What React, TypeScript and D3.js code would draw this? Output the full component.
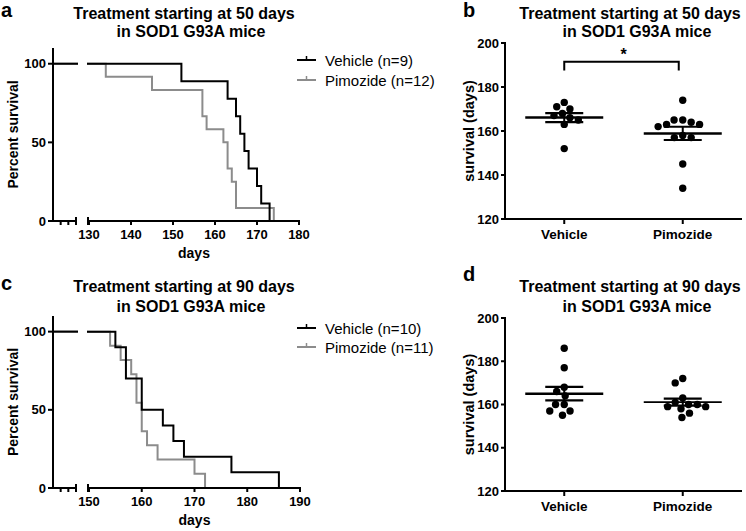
import React from "react";
import * as d3 from "d3";

// ---------- data ----------
const categories = ["Vehicle", "Pimozide"];
// survival (days) of each mouse — treatment starting at 50 days
const vehicle50Days = [152, 163, 165, 166, 167, 168, 170, 171, 173];
const pimozide50Days = [134, 145, 157, 157, 158, 162, 163, 163, 164, 165, 165, 174];
// survival (days) of each mouse — treatment starting at 90 days
const vehicle90Days = [155, 157, 157, 160, 160, 164, 166, 168, 177, 186];
const pimozide90Days = [154, 156, 158, 159, 159, 160, 160, 161, 163, 170, 172];

const xTicks50 = [130, 140, 150, 160, 170, 180];
const xTicks90 = [150, 160, 170, 180, 190];
const survivalTicks = [0, 50, 100];
const daysTicks = [120, 140, 160, 180, 200];

const title50 = ["Treatment starting at 50 days", "in SOD1 G93A mice"];
const title90 = ["Treatment starting at 90 days", "in SOD1 G93A mice"];
const legend50 = ["Vehicle (n=9)", "Pimozide (n=12)"];
const legend90 = ["Vehicle (n=10)", "Pimozide (n=11)"];
const sig50 = { text: "*", level: 191.5, tickEnd: 187.5 };

// ---------- style ----------
const FONT = "'Liberation Sans', Arial, Helvetica, sans-serif";
const GRAY = "#8c8c8c";
const BLACK = "#000";

function kmPoints(days: number[], start: number): [number, number][] {
  const n = days.length;
  const groups = d3.rollups(days, (v) => v.length, (d) => d).sort((a, b) => a[0] - b[0]);
  let s = 100;
  const pts: [number, number][] = [[start, 100]];
  groups.forEach(([t, c]) => {
    pts.push([t, s]);
    s = Math.max(0, s - (c / n) * 100);
    pts.push([t, s]);
  });
  return pts;
}

function Title({ lines, cx1, cx2, y1, y2 }: any) {
  return (
    <g fontFamily={FONT} fontWeight="bold" fontSize={16} textAnchor="middle">
      <text x={cx1} y={y1}>{lines[0]}</text>
      <text x={cx2} y={y2}>{lines[1]}</text>
    </g>
  );
}

function SurvivalPanel(props: any) {
  const { label, labelY, title, titleY1, titleY2, vehicle, pimozide, xTicks, axisY, axisTop, xRange, legendY, legendLabels } = props;
  const y = d3.scaleLinear().domain([0, 110]).range([axisY, axisTop]);
  const x = d3.scaleLinear().domain([xTicks[0], xTicks[xTicks.length - 1]]).range(xRange);
  const xl = d3.scaleLinear().domain([0, 3]).range([53, 76]);
  const start = xTicks[0];
  const segStart = x(start) - 1;
  const line = d3
    .line<[number, number]>()
    .x((d) => (d[0] === start ? segStart : x(d[0])))
    .y((d) => y(d[1]));
  const series = [
    { days: pimozide, color: GRAY },
    { days: vehicle, color: BLACK },
  ];
  const lx0 = 297, lx1 = 316;
  return (
    <g>
      <text x={1} y={labelY} fontFamily={FONT} fontWeight="bold" fontSize={20}>{label}</text>
      <Title lines={title} cx1={184} cx2={191} y1={titleY1} y2={titleY2} />
      {series.map((s, i) => (
        <g key={i} stroke={s.color} strokeWidth={2} fill="none">
          <line x1={xl(0)} x2={xl(3) + 2} y1={y(100)} y2={y(100)} />
          <path d={line(kmPoints(s.days, start)) || ""} strokeLinejoin="miter" strokeLinecap="square" />
        </g>
      ))}
      <g stroke={BLACK} strokeWidth={2}>
        <line x1={53} x2={53} y1={y(0) + 1} y2={y(110)} />
        {survivalTicks.map((t) => (
          <line key={t} x1={48} x2={53} y1={y(t)} y2={y(t)} />
        ))}
        <line x1={53} x2={xl(3)} y1={axisY} y2={axisY} />
        {[1, 2].map((t) => (
          <line key={t} x1={xl(t)} x2={xl(t)} y1={axisY} y2={axisY + 4} />
        ))}
        <line x1={xl(3)} x2={xl(3)} y1={axisY - 4} y2={axisY + 4} />
        <line x1={segStart} x2={x(xTicks[xTicks.length - 1]) + 1} y1={axisY} y2={axisY} />
        <line x1={segStart} x2={segStart} y1={axisY - 4} y2={axisY + 4} />
        {xTicks.map((t: number) => (
          <line key={t} x1={x(t)} x2={x(t)} y1={axisY} y2={axisY + 4} />
        ))}
      </g>
      <g fontFamily={FONT} fontWeight="bold" fontSize={13}>
        {survivalTicks.map((t) => (
          <text key={t} x={46} y={y(t) + 4.5} textAnchor="end">{t}</text>
        ))}
        {xTicks.map((t: number) => (
          <text key={t} x={x(t)} y={axisY + 18} textAnchor="middle">{t}</text>
        ))}
      </g>
      <text x={x(d3.mean(xTicks) as number)} y={axisY + 37} fontFamily={FONT} fontWeight="bold" fontSize={14} textAnchor="middle">days</text>
      <text transform={`translate(18,${(y(0) + y(110)) / 2}) rotate(-90)`} fontFamily={FONT} fontWeight="bold" fontSize={14} textAnchor="middle">Percent survival</text>
      {[BLACK, GRAY].map((c, i) => (
        <g key={i}>
          <g stroke={c} strokeWidth={2}>
            <line x1={lx0} x2={lx1} y1={legendY[i]} y2={legendY[i]} />
            <line x1={(lx0 + lx1) / 2} x2={(lx0 + lx1) / 2} y1={legendY[i]} y2={legendY[i] - 4} strokeWidth={1.5} />
          </g>
          <text x={325} y={legendY[i] + 5.5} fontFamily={FONT} fontSize={15}>{legendLabels[i]}</text>
        </g>
      ))}
    </g>
  );
}

function swarm(values: number[], yPos: (v: number) => number, r: number) {
  const d = 2 * r + 1.3;
  const pts = values.map((v) => ({ v, y: yPos(v), x: 0 })).sort((a, b) => b.v - a.v);
  const placed: { v: number; y: number; x: number }[] = [];
  for (const p of pts) {
    const intervals: [number, number][] = [];
    for (const q of placed) {
      const dy = p.y - q.y;
      if (Math.abs(dy) < d) {
        const dx = Math.sqrt(d * d - dy * dy);
        intervals.push([q.x - dx, q.x + dx]);
      }
    }
    const cands = [0, ...intervals.flatMap(([a, b]) => [a, b])].sort((a, b) => Math.abs(a) - Math.abs(b) || a - b);
    const x = cands.find((c) => intervals.every(([a, b]) => c <= a + 1e-6 || c >= b - 1e-6)) ?? 0;
    placed.push({ ...p, x });
  }
  return placed;
}

function DotPanel(props: any) {
  const { label, labelY, title, titleY1, titleY2, groups, axisY, axisTop, sig, thinSecondMean } = props;
  const y = d3.scaleLinear().domain([120, 200]).range([axisY, axisTop]);
  const x = d3.scalePoint<string>().domain(categories).range([505, 742]).padding(0.5);
  const r = 3.7;
  return (
    <g>
      <text x={463} y={labelY} fontFamily={FONT} fontWeight="bold" fontSize={20}>{label}</text>
      <Title lines={title} cx1={630} cx2={637} y1={titleY1} y2={titleY2} />
      <g stroke={BLACK} strokeWidth={2}>
        <line x1={505} x2={505} y1={y(120) + 1} y2={y(200) - 1} />
        {daysTicks.map((t) => (
          <line key={t} x1={501} x2={505} y1={y(t)} y2={y(t)} />
        ))}
        <line x1={504} x2={742} y1={axisY} y2={axisY} />
        {categories.map((c) => (
          <line key={c} x1={x(c)} x2={x(c)} y1={axisY} y2={axisY + 5} />
        ))}
      </g>
      <g fontFamily={FONT} fontWeight="bold" fontSize={13}>
        {daysTicks.map((t) => (
          <text key={t} x={499} y={y(t) + 4.5} textAnchor="end">{t}</text>
        ))}
      </g>
      <g fontFamily={FONT} fontWeight="bold" fontSize={13.5}>
        {categories.map((c) => (
          <text key={c} x={x(c)} y={axisY + 20} textAnchor="middle">{c}</text>
        ))}
      </g>
      <text transform={`translate(474,${(y(120) + y(200)) / 2}) rotate(-90)`} fontFamily={FONT} fontWeight="bold" fontSize={14.5} textAnchor="middle">survival (days)</text>
      {groups.map((vals: number[], gi: number) => {
        const cx = x(categories[gi]) as number;
        const mean = d3.mean(vals) as number;
        const sem = (d3.deviation(vals) as number) / Math.sqrt(vals.length);
        const pts = swarm(vals, (v) => y(v), r);
        const mw = thinSecondMean && gi === 1 ? 1.6 : 2.5;
        return (
          <g key={gi}>
            {pts.map((p, i) => (
              <circle key={i} cx={cx + p.x} cy={p.y} r={r} fill={BLACK} />
            ))}
            <g stroke={BLACK}>
              <line x1={cx - 39} x2={cx + 39} y1={y(mean)} y2={y(mean)} strokeWidth={mw} />
              <line x1={cx} x2={cx} y1={y(mean - sem)} y2={y(mean + sem)} strokeWidth={2} />
              <line x1={cx - 19} x2={cx + 19} y1={y(mean + sem)} y2={y(mean + sem)} strokeWidth={2.2} />
              <line x1={cx - 19} x2={cx + 19} y1={y(mean - sem)} y2={y(mean - sem)} strokeWidth={2.2} />
            </g>
          </g>
        );
      })}
      {sig && (
        <g>
          <path
            d={`M${x(categories[0])},${y(sig.tickEnd)}V${y(sig.level)}H${(x(categories[1]) as number) - 4}V${y(sig.tickEnd)}`}
            stroke={BLACK} strokeWidth={2} fill="none"
          />
          <text x={((x(categories[0]) as number) + (x(categories[1]) as number)) / 2} y={y(sig.level) - 2} fontFamily={FONT} fontWeight="bold" fontSize={16} textAnchor="middle">{sig.text}</text>
        </g>
      )}
    </g>
  );
}

export default function App() {
  return (
    <svg width={746} height={531} viewBox="0 0 746 531" style={{ position: "absolute", left: 0, top: 0, background: "#fff" }}>
      <rect width={746} height={531} fill="#fff" />
      <SurvivalPanel
        label="a" labelY={17} title={title50} titleY1={18.5} titleY2={37}
        vehicle={vehicle50Days} pimozide={pimozide50Days} xTicks={xTicks50}
        axisY={221} axisTop={48} xRange={[89, 299]} legendY={[60, 80]} legendLabels={legend50}
      />
      <DotPanel
        label="b" labelY={17} title={title50} titleY1={18.5} titleY2={37}
        groups={[vehicle50Days, pimozide50Days]} axisY={219} axisTop={43} sig={sig50}
      />
      <SurvivalPanel
        label="c" labelY={290} title={title90} titleY1={291.5} titleY2={312}
        vehicle={vehicle90Days} pimozide={pimozide90Days} xTicks={xTicks90}
        axisY={488} axisTop={316} xRange={[89, 300]} legendY={[328, 347]} legendLabels={legend90}
      />
      <DotPanel
        label="d" labelY={281} title={title90} titleY1={291.5} titleY2={312}
        groups={[vehicle90Days, pimozide90Days]} axisY={491} axisTop={318} thinSecondMean
      />
    </svg>
  );
}
